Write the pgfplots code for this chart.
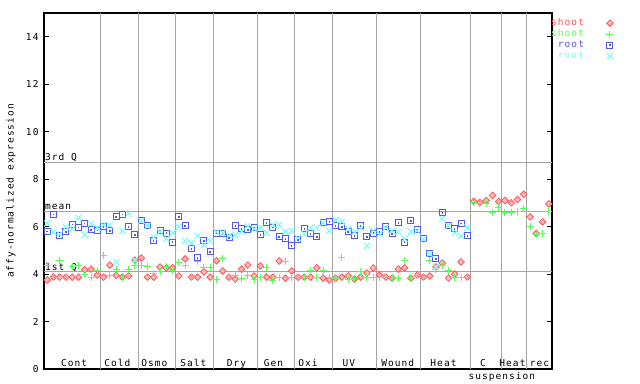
\documentclass[border=0pt]{standalone}
\usepackage{fontspec}
\newfontfamily\pix[LetterSpace=11]{DejaVu Sans Mono}
\newcommand\pf{\pix\fontsize{9.5bp}{11bp}\selectfont}
\usepackage{pgfplots}
\pgfplotsset{compat=1.18}
\definecolor{cred}{RGB}{255,85,85}
\definecolor{cfill}{RGB}{255,185,185}
\definecolor{cgreen}{RGB}{85,255,85}
\definecolor{cblue}{RGB}{85,85,245}
\definecolor{ccyan}{RGB}{110,255,255}
\definecolor{cgrid}{RGB}{165,165,165}
\pgfdeclareplotmark{dia}{%
  \pgfpathmoveto{\pgfqpoint{0bp}{3.3bp}}%
  \pgfpathlineto{\pgfqpoint{3.3bp}{0bp}}%
  \pgfpathlineto{\pgfqpoint{0bp}{-3.3bp}}%
  \pgfpathlineto{\pgfqpoint{-3.3bp}{0bp}}%
  \pgfpathclose\pgfusepathqfillstroke}
\pgfdeclareplotmark{sqdot}{%
  \pgfpathrectangle{\pgfqpoint{-3bp}{-3bp}}{\pgfqpoint{6bp}{6bp}}%
  \pgfusepathqstroke
  \pgfpathrectangle{\pgfqpoint{-0.7bp}{-0.7bp}}{\pgfqpoint{1.4bp}{1.4bp}}%
  \pgfusepathqfill}
\begin{document}
\begin{tikzpicture}
\useasboundingbox (0bp,0bp) rectangle (640bp,384bp);
\begin{axis}[
  at={(44bp,15bp)}, anchor=south west,
  scale only axis, width=508bp, height=356bp,
  xmin=-0.5, xmax=80.5, ymin=0, ymax=15,
  clip=false,
  axis line style={line width=1.2bp, black},
  xtick=\empty,
  ytick={0,2,4,6,8,10,12,14},
  yticklabels={0,2,4,6,8,10,12,14},
  ytick pos=both, tick align=inside,
  major tick length=5bp,
  y tick style={line width=1bp, black},
  yticklabel style={font=\pf, xshift=-2bp},
  ylabel={affy-normalized expression},
  ylabel style={font=\pf, at={(axis description cs:-0.065,0.5)}, anchor=center},
  extra x ticks={8.5,14.5,20.5,26.5,33.5,39.5,45.5,52.5,59.5,67.5,72.5,76.5},
  extra x tick labels={},
  extra x tick style={grid=major, major grid style={cgrid, line width=1bp}, major tick length=0pt},
  extra y ticks={4.09,6.63,8.70},
  extra y tick labels={},
  extra y tick style={grid=major, major grid style={cgrid, line width=1bp}, major tick length=0pt},
  only marks,
  legend plot pos=right,
  legend cell align=right,
  legend image code/.code={\path[draw=none,fill=none] (0bp,0bp) (27bp,0bp); \draw[#1,/tikz/only marks] plot coordinates {(25bp,0bp)};},
  legend style={at={(axis description cs:1,1)}, anchor=north west, xshift=-2bp, yshift=-4.5bp,
    draw=none, fill=none, inner sep=0pt, row sep=0pt, font=\pf,
    nodes={inner sep=1bp, text height=7bp, text depth=2bp}},
]
\addplot[mark=dia, draw=cred, mark options={fill=cfill, draw=cred, line width=0.8bp}] table {
0 3.75
1 3.87
2 3.87
3 3.87
4 3.87
5 3.87
6 4.18
7 4.21
8 3.96
9 3.87
10 4.38
11 3.94
12 3.87
13 3.92
14 4.59
15 4.68
16 3.87
17 3.87
18 4.30
19 4.26
20 4.26
21 3.92
22 4.64
23 3.87
24 3.87
25 4.09
26 3.87
27 4.56
28 4.13
29 3.87
30 3.79
31 4.21
32 4.38
33 3.92
34 4.34
35 3.87
36 3.87
37 4.55
38 3.83
39 4.13
40 3.87
41 3.87
42 3.87
43 4.26
44 3.83
45 3.75
46 3.83
47 3.87
48 3.92
49 3.79
50 3.87
51 4.04
52 4.26
53 3.96
54 3.87
55 3.83
56 4.21
57 4.26
58 3.83
59 3.96
60 3.87
61 3.92
62 4.30
63 4.47
64 3.83
65 4.00
66 4.51
67 3.87
68 7.06
69 7.02
70 7.10
71 7.31
72 7.06
73 7.10
74 7.00
75 7.14
76 7.36
77 6.41
78 5.71
79 6.20
80 6.96
};
\addlegendentry{\textcolor{cred}{shoot}}
\addplot[mark=+, draw=cgreen, mark size=3.5bp, mark options={line width=1bp}] table {
0 4.36
1 3.87
2 4.56
3 3.87
4 4.30
5 4.38
6 4.00
7 3.87
8 4.13
9 4.80
10 3.92
11 4.21
12 3.87
13 4.21
14 4.37
15 4.38
16 4.30
17 4.04
18 4.10
19 4.30
20 4.13
21 4.47
22 4.35
23 3.87
24 4.51
25 4.26
26 4.26
27 3.75
28 4.64
29 3.87
30 3.96
31 3.83
32 3.92
33 3.75
34 3.87
35 4.26
36 3.71
37 3.87
38 4.51
39 3.87
40 3.87
41 3.87
42 4.13
43 3.87
44 4.13
45 3.87
46 3.83
47 4.68
48 3.79
49 3.83
50 4.09
51 3.87
52 3.87
53 3.87
54 3.87
55 3.87
56 3.83
57 4.59
58 3.87
59 3.92
60 3.87
61 4.59
62 4.21
63 4.34
64 4.13
65 3.87
66 3.87
67 3.87
68 7.02
69 6.98
70 6.98
71 6.59
72 6.81
73 6.59
74 6.59
75 6.64
76 6.76
77 6.00
78 5.65
79 5.73
80 6.64
};
\addlegendentry{\textcolor{cgreen}{shoot}}
\addplot[mark=sqdot, draw=cblue, mark options={fill=cblue, line width=1bp}] table {
0 5.80
1 6.50
2 5.61
3 5.78
4 6.08
5 5.95
6 6.12
7 5.86
8 5.84
9 5.99
10 5.82
11 6.41
12 6.50
13 5.99
14 5.65
15 6.24
16 6.03
17 5.40
18 5.82
19 5.73
20 5.35
21 6.41
22 6.03
23 5.06
24 4.68
25 5.40
26 4.93
27 5.73
28 5.69
29 5.52
30 6.03
31 5.90
32 5.86
33 5.95
34 5.65
35 6.16
36 5.95
37 5.57
38 5.48
39 5.19
40 5.44
41 5.90
42 5.69
43 5.57
44 6.16
45 6.20
46 6.03
47 5.99
48 5.78
49 5.61
50 6.03
51 5.57
52 5.73
53 5.78
54 5.99
55 5.69
56 6.16
57 5.35
58 6.24
59 5.86
60 5.48
61 4.85
62 4.64
63 6.58
64 6.03
65 5.90
66 6.12
67 5.61
};
\addlegendentry{\textcolor{cblue}{root}}
\addplot[mark=x, draw=ccyan, mark size=4.2bp, mark options={line width=1bp}] table {
0 6.13
1 5.78
2 5.68
3 5.98
4 5.90
5 6.37
6 5.65
7 6.12
8 5.95
9 6.07
10 6.07
11 4.51
12 5.82
13 6.54
14 4.59
15 6.24
16 6.03
17 5.57
18 5.78
19 5.48
20 5.73
21 5.99
22 5.40
23 5.31
24 5.61
25 5.23
26 5.40
27 5.78
28 5.73
29 5.61
30 5.65
31 5.78
32 6.03
33 5.90
34 5.95
35 5.73
36 6.07
37 6.07
38 5.78
39 5.82
40 5.52
41 5.69
42 5.95
43 5.95
44 6.16
45 5.82
46 6.28
47 6.20
48 5.90
49 5.78
50 5.95
51 5.19
52 5.82
53 5.69
54 5.95
55 5.82
56 5.78
57 5.48
58 5.78
59 5.82
60 5.48
61 4.85
62 4.30
63 6.33
64 6.03
65 5.73
66 5.61
67 5.95
};
\addlegendentry{\textcolor{ccyan}{root}}
\begin{scope}[every node/.style={font=\pf, anchor=base, inner sep=0pt, yshift=2.5bp}]
\node at (axis cs:4.3,0) {Cont};
\node at (axis cs:11.2,0) {Cold};
\node at (axis cs:17.1,0) {Osmo};
\node at (axis cs:23.3,0) {Salt};
\node at (axis cs:30.2,0) {Dry};
\node at (axis cs:36.1,0) {Gen};
\node at (axis cs:41.6,0) {Oxi};
\node at (axis cs:48.1,0) {UV};
\node at (axis cs:55.9,0) {Wound};
\node at (axis cs:63.2,0) {Heat};
\node at (axis cs:69.5,0) {C};
\node at (axis cs:74.2,0) {Heat};
\node at (axis cs:78.5,0) {rec};
\end{scope}
\node[font=\pf, anchor=base, inner sep=0pt, yshift=-10bp] at (axis cs:72.5,0) {suspension};
\begin{scope}[every node/.style={font=\pf, anchor=base west, inner sep=0pt, xshift=1bp, yshift=1.8bp}]
\node at (axis cs:-0.5,8.70) {3rd Q};
\node at (axis cs:-0.5,6.63) {mean};
\node at (axis cs:-0.5,4.09) {1st Q};
\end{scope}
\end{axis}
\end{tikzpicture}
\end{document}
